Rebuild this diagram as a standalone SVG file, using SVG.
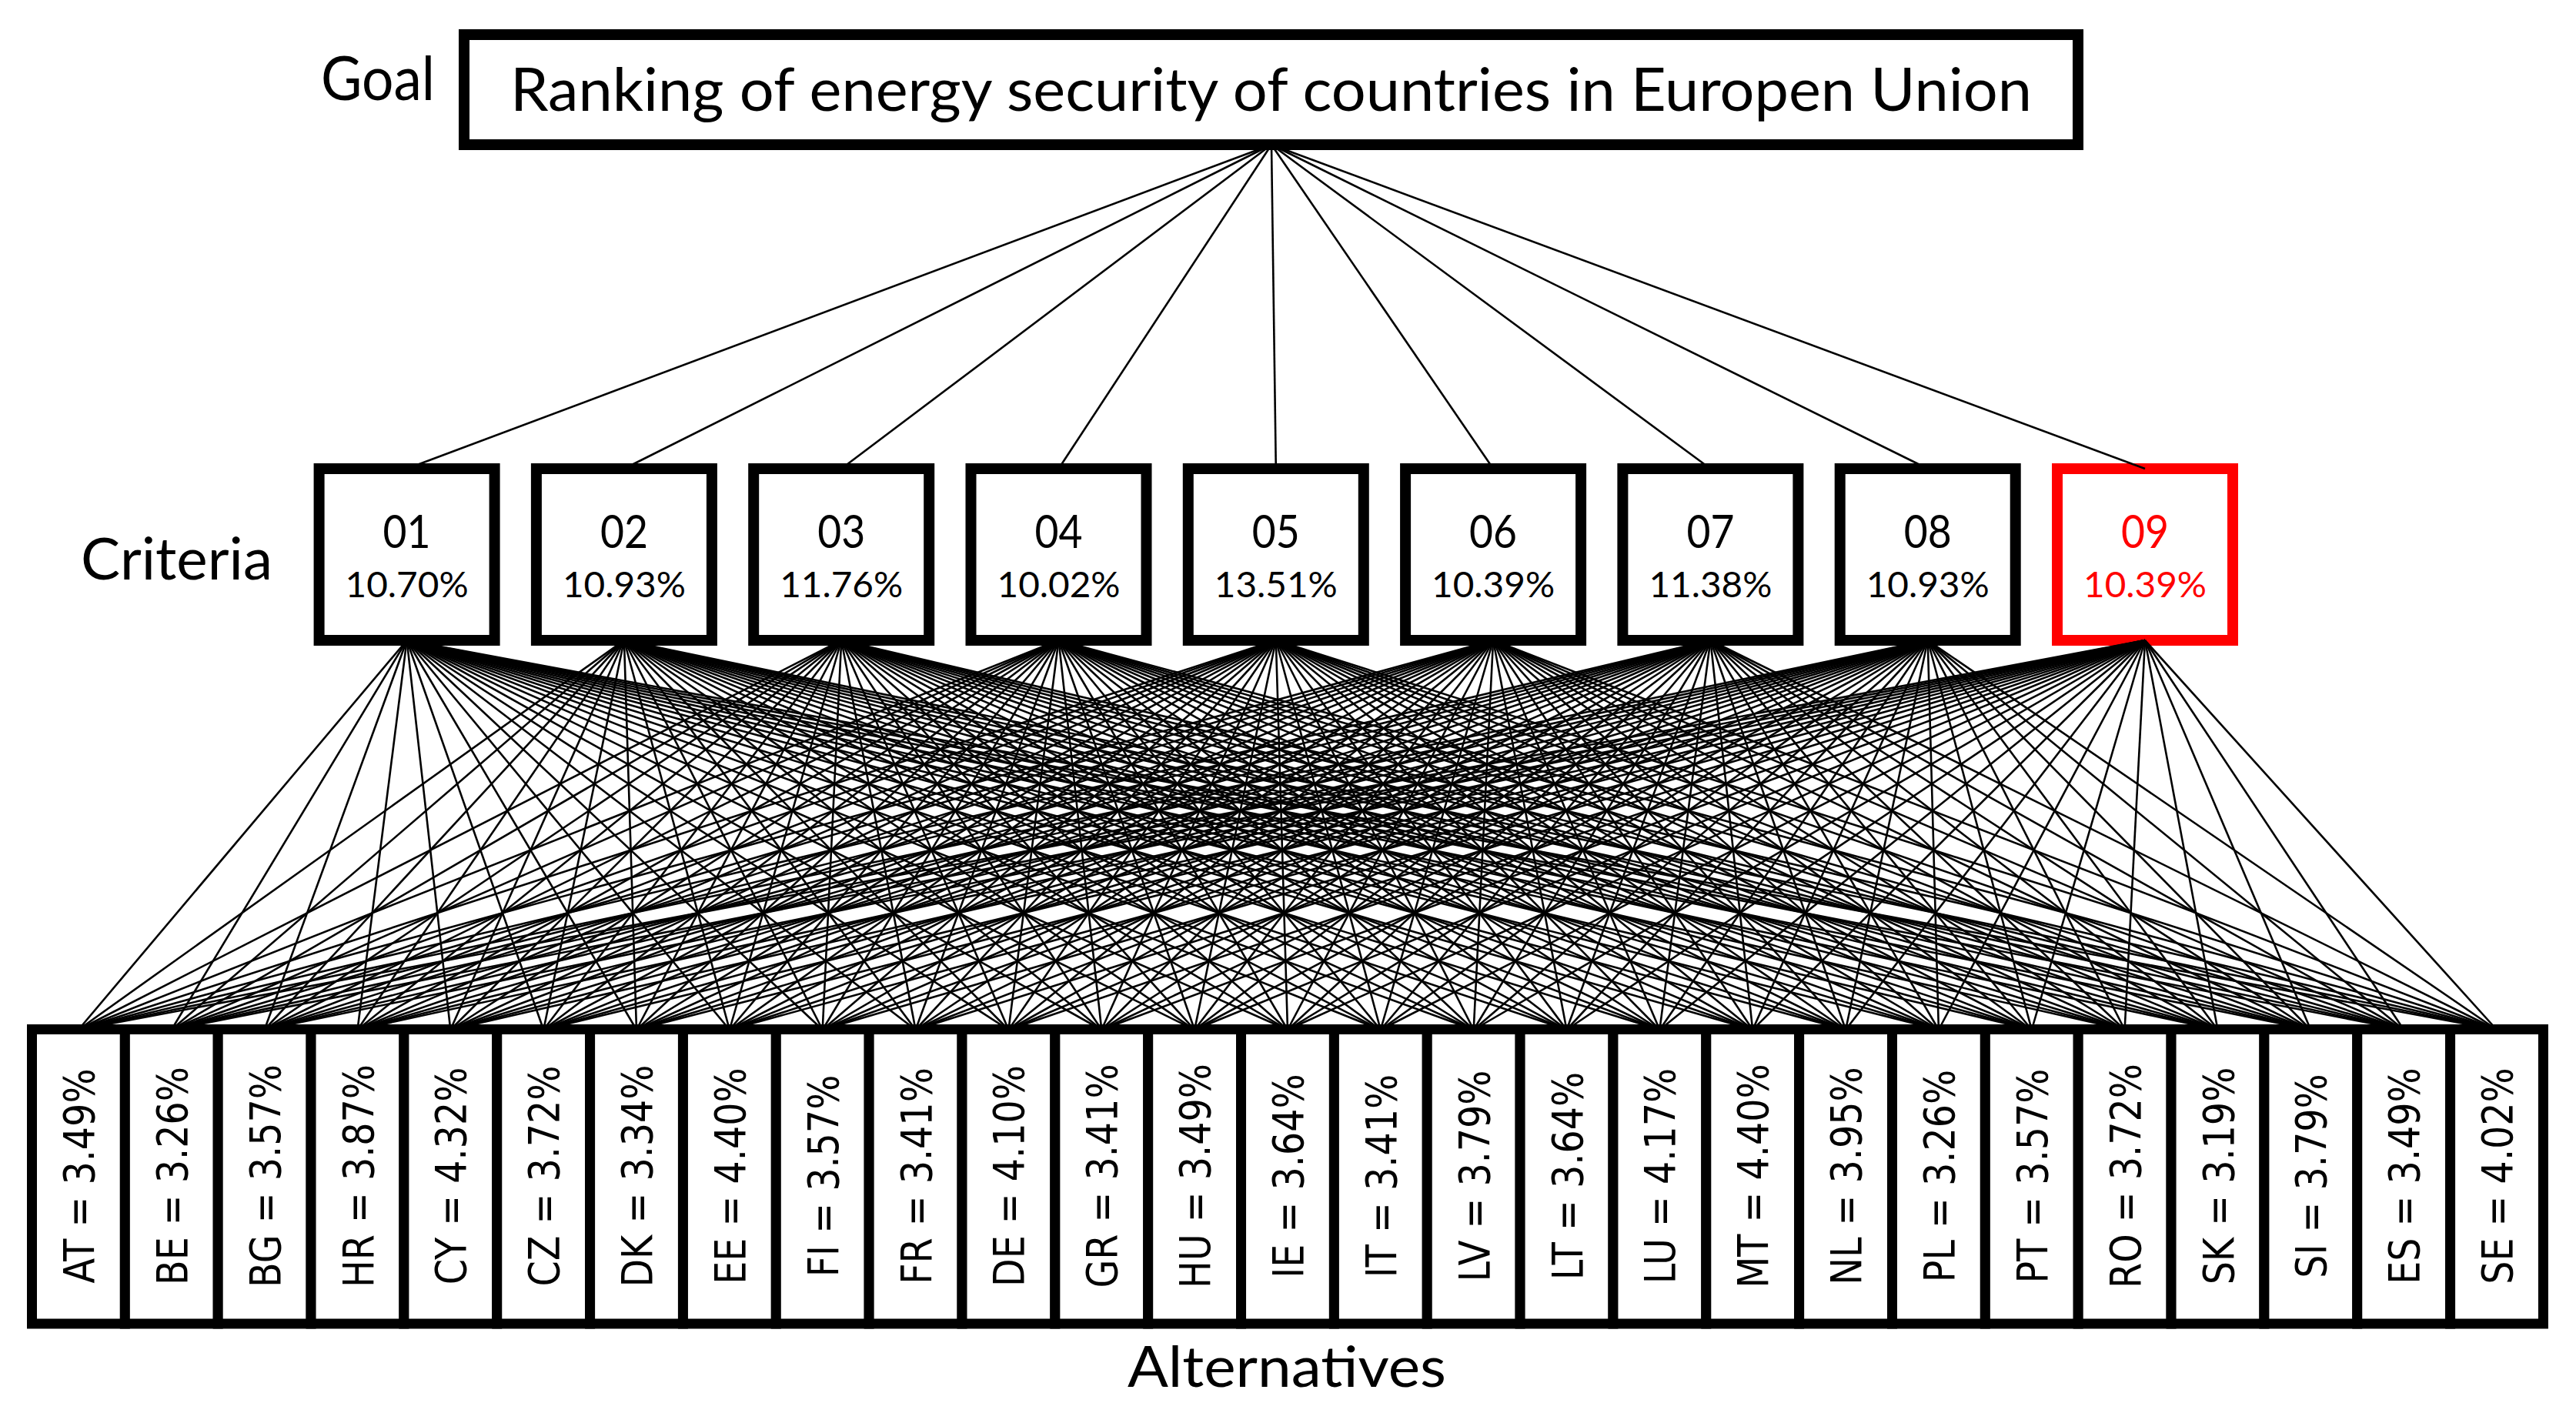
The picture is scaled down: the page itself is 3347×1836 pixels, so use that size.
<svg xmlns="http://www.w3.org/2000/svg" width="3347" height="1836" viewBox="0 0 3347 1836">
<style>
.lbl{font-family:Lato,"Open Sans","Liberation Sans",sans-serif;fill:#000}
.box rect{fill:#fff;stroke:#000;stroke-width:14}
.box text{font-family:Lato,"Open Sans","Liberation Sans",sans-serif;text-anchor:middle;fill:#000}
.box .id{font-size:60px}
.box .pc{font-size:46px}
.red rect{stroke:#ff0000}
.red text{fill:#ff0000}
.alt rect{fill:#fff;stroke:#000;stroke-width:13}
.alt text{font-family:"DejaVu Sans",Verdana,sans-serif;font-size:56px;text-anchor:middle;fill:#000}
.top line{stroke:#000;stroke-width:2.6}
.low line{stroke:#000;stroke-width:2.6}
</style>
<rect width="3347" height="1836" fill="#fff"/>
<text class="lbl" x="417" y="130" font-size="80" textLength="148" lengthAdjust="spacingAndGlyphs">Goal</text>
<text class="lbl" x="105" y="753" font-size="76" textLength="249" lengthAdjust="spacingAndGlyphs">Criteria</text>
<text class="lbl" x="1465" y="1802" font-size="74" textLength="414" lengthAdjust="spacingAndGlyphs">Alternatives</text>
<g id="goal" class="box"><rect x="603" y="45" width="2097" height="143"/><text x="1651.5" y="144" font-size="78" textLength="1977" lengthAdjust="spacingAndGlyphs">Ranking of energy security of countries in Europen Union</text></g>
<g id="criteria">
<g id="c01" class="box"><rect x="414.6" y="609" width="228" height="223"/><text class="id" x="528.6" y="712" textLength="62" lengthAdjust="spacingAndGlyphs">01</text><text class="pc" x="528.6" y="776" textLength="160" lengthAdjust="spacingAndGlyphs">10.70%</text></g>
<g id="c02" class="box"><rect x="696.9" y="609" width="228" height="223"/><text class="id" x="810.9" y="712" textLength="62" lengthAdjust="spacingAndGlyphs">02</text><text class="pc" x="810.9" y="776" textLength="160" lengthAdjust="spacingAndGlyphs">10.93%</text></g>
<g id="c03" class="box"><rect x="979.2" y="609" width="228" height="223"/><text class="id" x="1093.2" y="712" textLength="62" lengthAdjust="spacingAndGlyphs">03</text><text class="pc" x="1093.2" y="776" textLength="160" lengthAdjust="spacingAndGlyphs">11.76%</text></g>
<g id="c04" class="box"><rect x="1261.5" y="609" width="228" height="223"/><text class="id" x="1375.5" y="712" textLength="62" lengthAdjust="spacingAndGlyphs">04</text><text class="pc" x="1375.5" y="776" textLength="160" lengthAdjust="spacingAndGlyphs">10.02%</text></g>
<g id="c05" class="box"><rect x="1543.8" y="609" width="228" height="223"/><text class="id" x="1657.8" y="712" textLength="62" lengthAdjust="spacingAndGlyphs">05</text><text class="pc" x="1657.8" y="776" textLength="160" lengthAdjust="spacingAndGlyphs">13.51%</text></g>
<g id="c06" class="box"><rect x="1826.1" y="609" width="228" height="223"/><text class="id" x="1940.1" y="712" textLength="62" lengthAdjust="spacingAndGlyphs">06</text><text class="pc" x="1940.1" y="776" textLength="160" lengthAdjust="spacingAndGlyphs">10.39%</text></g>
<g id="c07" class="box"><rect x="2108.4" y="609" width="228" height="223"/><text class="id" x="2222.4" y="712" textLength="62" lengthAdjust="spacingAndGlyphs">07</text><text class="pc" x="2222.4" y="776" textLength="160" lengthAdjust="spacingAndGlyphs">11.38%</text></g>
<g id="c08" class="box"><rect x="2390.7" y="609" width="228" height="223"/><text class="id" x="2504.7" y="712" textLength="62" lengthAdjust="spacingAndGlyphs">08</text><text class="pc" x="2504.7" y="776" textLength="160" lengthAdjust="spacingAndGlyphs">10.93%</text></g>
<g id="c09" class="box red"><rect x="2673" y="609" width="228" height="223"/><text class="id" x="2787" y="712" textLength="62" lengthAdjust="spacingAndGlyphs">09</text><text class="pc" x="2787" y="776" textLength="160" lengthAdjust="spacingAndGlyphs">10.39%</text></g>
</g>
<g id="alternatives">
<g id="alt-AT" class="alt"><rect x="41.5" y="1337.5" width="120.85" height="382.5"/><text transform="translate(101.9,1528) rotate(-90) scale(0.85,1)" y="20">AT = 3.49%</text></g>
<g id="alt-BE" class="alt"><rect x="162.35" y="1337.5" width="120.85" height="382.5"/><text transform="translate(222.8,1528) rotate(-90) scale(0.85,1)" y="20">BE = 3.26%</text></g>
<g id="alt-BG" class="alt"><rect x="283.2" y="1337.5" width="120.85" height="382.5"/><text transform="translate(343.6,1528) rotate(-90) scale(0.85,1)" y="20">BG = 3.57%</text></g>
<g id="alt-HR" class="alt"><rect x="404.05" y="1337.5" width="120.85" height="382.5"/><text transform="translate(464.5,1528) rotate(-90) scale(0.85,1)" y="20">HR = 3.87%</text></g>
<g id="alt-CY" class="alt"><rect x="524.9" y="1337.5" width="120.85" height="382.5"/><text transform="translate(585.3,1528) rotate(-90) scale(0.85,1)" y="20">CY = 4.32%</text></g>
<g id="alt-CZ" class="alt"><rect x="645.75" y="1337.5" width="120.85" height="382.5"/><text transform="translate(706.2,1528) rotate(-90) scale(0.85,1)" y="20">CZ = 3.72%</text></g>
<g id="alt-DK" class="alt"><rect x="766.6" y="1337.5" width="120.85" height="382.5"/><text transform="translate(827,1528) rotate(-90) scale(0.85,1)" y="20">DK = 3.34%</text></g>
<g id="alt-EE" class="alt"><rect x="887.45" y="1337.5" width="120.85" height="382.5"/><text transform="translate(947.9,1528) rotate(-90) scale(0.85,1)" y="20">EE = 4.40%</text></g>
<g id="alt-FI" class="alt"><rect x="1008.3" y="1337.5" width="120.85" height="382.5"/><text transform="translate(1068.7,1528) rotate(-90) scale(0.85,1)" y="20">FI = 3.57%</text></g>
<g id="alt-FR" class="alt"><rect x="1129.15" y="1337.5" width="120.85" height="382.5"/><text transform="translate(1189.6,1528) rotate(-90) scale(0.85,1)" y="20">FR = 3.41%</text></g>
<g id="alt-DE" class="alt"><rect x="1250" y="1337.5" width="120.85" height="382.5"/><text transform="translate(1310.4,1528) rotate(-90) scale(0.85,1)" y="20">DE = 4.10%</text></g>
<g id="alt-GR" class="alt"><rect x="1370.85" y="1337.5" width="120.85" height="382.5"/><text transform="translate(1431.3,1528) rotate(-90) scale(0.85,1)" y="20">GR = 3.41%</text></g>
<g id="alt-HU" class="alt"><rect x="1491.7" y="1337.5" width="120.85" height="382.5"/><text transform="translate(1552.1,1528) rotate(-90) scale(0.85,1)" y="20">HU = 3.49%</text></g>
<g id="alt-IE" class="alt"><rect x="1612.55" y="1337.5" width="120.85" height="382.5"/><text transform="translate(1673,1528) rotate(-90) scale(0.85,1)" y="20">IE = 3.64%</text></g>
<g id="alt-IT" class="alt"><rect x="1733.4" y="1337.5" width="120.85" height="382.5"/><text transform="translate(1793.8,1528) rotate(-90) scale(0.85,1)" y="20">IT = 3.41%</text></g>
<g id="alt-LV" class="alt"><rect x="1854.25" y="1337.5" width="120.85" height="382.5"/><text transform="translate(1914.7,1528) rotate(-90) scale(0.85,1)" y="20">LV = 3.79%</text></g>
<g id="alt-LT" class="alt"><rect x="1975.1" y="1337.5" width="120.85" height="382.5"/><text transform="translate(2035.5,1528) rotate(-90) scale(0.85,1)" y="20">LT = 3.64%</text></g>
<g id="alt-LU" class="alt"><rect x="2095.95" y="1337.5" width="120.85" height="382.5"/><text transform="translate(2156.4,1528) rotate(-90) scale(0.85,1)" y="20">LU = 4.17%</text></g>
<g id="alt-MT" class="alt"><rect x="2216.8" y="1337.5" width="120.85" height="382.5"/><text transform="translate(2277.2,1528) rotate(-90) scale(0.85,1)" y="20">MT = 4.40%</text></g>
<g id="alt-NL" class="alt"><rect x="2337.65" y="1337.5" width="120.85" height="382.5"/><text transform="translate(2398.1,1528) rotate(-90) scale(0.85,1)" y="20">NL = 3.95%</text></g>
<g id="alt-PL" class="alt"><rect x="2458.5" y="1337.5" width="120.85" height="382.5"/><text transform="translate(2518.9,1528) rotate(-90) scale(0.85,1)" y="20">PL = 3.26%</text></g>
<g id="alt-PT" class="alt"><rect x="2579.35" y="1337.5" width="120.85" height="382.5"/><text transform="translate(2639.8,1528) rotate(-90) scale(0.85,1)" y="20">PT = 3.57%</text></g>
<g id="alt-RO" class="alt"><rect x="2700.2" y="1337.5" width="120.85" height="382.5"/><text transform="translate(2760.6,1528) rotate(-90) scale(0.85,1)" y="20">RO = 3.72%</text></g>
<g id="alt-SK" class="alt"><rect x="2821.05" y="1337.5" width="120.85" height="382.5"/><text transform="translate(2881.5,1528) rotate(-90) scale(0.85,1)" y="20">SK = 3.19%</text></g>
<g id="alt-SI" class="alt"><rect x="2941.9" y="1337.5" width="120.85" height="382.5"/><text transform="translate(3002.3,1528) rotate(-90) scale(0.85,1)" y="20">SI = 3.79%</text></g>
<g id="alt-ES" class="alt"><rect x="3062.75" y="1337.5" width="120.85" height="382.5"/><text transform="translate(3123.2,1528) rotate(-90) scale(0.85,1)" y="20">ES = 3.49%</text></g>
<g id="alt-SE" class="alt"><rect x="3183.6" y="1337.5" width="120.85" height="382.5"/><text transform="translate(3244,1528) rotate(-90) scale(0.85,1)" y="20">SE = 4.02%</text></g>
</g>
<g id="connectors">
<g class="top">
<line x1="1652" y1="188" x2="528.6" y2="609"/>
<line x1="1652" y1="188" x2="810.9" y2="609"/>
<line x1="1652" y1="188" x2="1093.2" y2="609"/>
<line x1="1652" y1="188" x2="1375.5" y2="609"/>
<line x1="1652" y1="188" x2="1657.8" y2="609"/>
<line x1="1652" y1="188" x2="1940.1" y2="609"/>
<line x1="1652" y1="188" x2="2222.4" y2="609"/>
<line x1="1652" y1="188" x2="2504.7" y2="609"/>
<line x1="1652" y1="188" x2="2787" y2="609"/>
</g>
<g class="low">
<line x1="528.6" y1="832" x2="101.9" y2="1338"/><line x1="528.6" y1="832" x2="222.8" y2="1338"/><line x1="528.6" y1="832" x2="343.6" y2="1338"/><line x1="528.6" y1="832" x2="464.5" y2="1338"/><line x1="528.6" y1="832" x2="585.3" y2="1338"/><line x1="528.6" y1="832" x2="706.2" y2="1338"/><line x1="528.6" y1="832" x2="827" y2="1338"/><line x1="528.6" y1="832" x2="947.9" y2="1338"/><line x1="528.6" y1="832" x2="1068.7" y2="1338"/><line x1="528.6" y1="832" x2="1189.6" y2="1338"/><line x1="528.6" y1="832" x2="1310.4" y2="1338"/><line x1="528.6" y1="832" x2="1431.3" y2="1338"/><line x1="528.6" y1="832" x2="1552.1" y2="1338"/><line x1="528.6" y1="832" x2="1673" y2="1338"/><line x1="528.6" y1="832" x2="1793.8" y2="1338"/><line x1="528.6" y1="832" x2="1914.7" y2="1338"/><line x1="528.6" y1="832" x2="2035.5" y2="1338"/><line x1="528.6" y1="832" x2="2156.4" y2="1338"/><line x1="528.6" y1="832" x2="2277.2" y2="1338"/><line x1="528.6" y1="832" x2="2398.1" y2="1338"/><line x1="528.6" y1="832" x2="2518.9" y2="1338"/><line x1="528.6" y1="832" x2="2639.8" y2="1338"/><line x1="528.6" y1="832" x2="2760.6" y2="1338"/><line x1="528.6" y1="832" x2="2881.5" y2="1338"/><line x1="528.6" y1="832" x2="3002.3" y2="1338"/><line x1="528.6" y1="832" x2="3123.2" y2="1338"/><line x1="528.6" y1="832" x2="3244" y2="1338"/>
<line x1="810.9" y1="832" x2="101.9" y2="1338"/><line x1="810.9" y1="832" x2="222.8" y2="1338"/><line x1="810.9" y1="832" x2="343.6" y2="1338"/><line x1="810.9" y1="832" x2="464.5" y2="1338"/><line x1="810.9" y1="832" x2="585.3" y2="1338"/><line x1="810.9" y1="832" x2="706.2" y2="1338"/><line x1="810.9" y1="832" x2="827" y2="1338"/><line x1="810.9" y1="832" x2="947.9" y2="1338"/><line x1="810.9" y1="832" x2="1068.7" y2="1338"/><line x1="810.9" y1="832" x2="1189.6" y2="1338"/><line x1="810.9" y1="832" x2="1310.4" y2="1338"/><line x1="810.9" y1="832" x2="1431.3" y2="1338"/><line x1="810.9" y1="832" x2="1552.1" y2="1338"/><line x1="810.9" y1="832" x2="1673" y2="1338"/><line x1="810.9" y1="832" x2="1793.8" y2="1338"/><line x1="810.9" y1="832" x2="1914.7" y2="1338"/><line x1="810.9" y1="832" x2="2035.5" y2="1338"/><line x1="810.9" y1="832" x2="2156.4" y2="1338"/><line x1="810.9" y1="832" x2="2277.2" y2="1338"/><line x1="810.9" y1="832" x2="2398.1" y2="1338"/><line x1="810.9" y1="832" x2="2518.9" y2="1338"/><line x1="810.9" y1="832" x2="2639.8" y2="1338"/><line x1="810.9" y1="832" x2="2760.6" y2="1338"/><line x1="810.9" y1="832" x2="2881.5" y2="1338"/><line x1="810.9" y1="832" x2="3002.3" y2="1338"/><line x1="810.9" y1="832" x2="3123.2" y2="1338"/><line x1="810.9" y1="832" x2="3244" y2="1338"/>
<line x1="1093.2" y1="832" x2="101.9" y2="1338"/><line x1="1093.2" y1="832" x2="222.8" y2="1338"/><line x1="1093.2" y1="832" x2="343.6" y2="1338"/><line x1="1093.2" y1="832" x2="464.5" y2="1338"/><line x1="1093.2" y1="832" x2="585.3" y2="1338"/><line x1="1093.2" y1="832" x2="706.2" y2="1338"/><line x1="1093.2" y1="832" x2="827" y2="1338"/><line x1="1093.2" y1="832" x2="947.9" y2="1338"/><line x1="1093.2" y1="832" x2="1068.7" y2="1338"/><line x1="1093.2" y1="832" x2="1189.6" y2="1338"/><line x1="1093.2" y1="832" x2="1310.4" y2="1338"/><line x1="1093.2" y1="832" x2="1431.3" y2="1338"/><line x1="1093.2" y1="832" x2="1552.1" y2="1338"/><line x1="1093.2" y1="832" x2="1673" y2="1338"/><line x1="1093.2" y1="832" x2="1793.8" y2="1338"/><line x1="1093.2" y1="832" x2="1914.7" y2="1338"/><line x1="1093.2" y1="832" x2="2035.5" y2="1338"/><line x1="1093.2" y1="832" x2="2156.4" y2="1338"/><line x1="1093.2" y1="832" x2="2277.2" y2="1338"/><line x1="1093.2" y1="832" x2="2398.1" y2="1338"/><line x1="1093.2" y1="832" x2="2518.9" y2="1338"/><line x1="1093.2" y1="832" x2="2639.8" y2="1338"/><line x1="1093.2" y1="832" x2="2760.6" y2="1338"/><line x1="1093.2" y1="832" x2="2881.5" y2="1338"/><line x1="1093.2" y1="832" x2="3002.3" y2="1338"/><line x1="1093.2" y1="832" x2="3123.2" y2="1338"/><line x1="1093.2" y1="832" x2="3244" y2="1338"/>
<line x1="1375.5" y1="832" x2="101.9" y2="1338"/><line x1="1375.5" y1="832" x2="222.8" y2="1338"/><line x1="1375.5" y1="832" x2="343.6" y2="1338"/><line x1="1375.5" y1="832" x2="464.5" y2="1338"/><line x1="1375.5" y1="832" x2="585.3" y2="1338"/><line x1="1375.5" y1="832" x2="706.2" y2="1338"/><line x1="1375.5" y1="832" x2="827" y2="1338"/><line x1="1375.5" y1="832" x2="947.9" y2="1338"/><line x1="1375.5" y1="832" x2="1068.7" y2="1338"/><line x1="1375.5" y1="832" x2="1189.6" y2="1338"/><line x1="1375.5" y1="832" x2="1310.4" y2="1338"/><line x1="1375.5" y1="832" x2="1431.3" y2="1338"/><line x1="1375.5" y1="832" x2="1552.1" y2="1338"/><line x1="1375.5" y1="832" x2="1673" y2="1338"/><line x1="1375.5" y1="832" x2="1793.8" y2="1338"/><line x1="1375.5" y1="832" x2="1914.7" y2="1338"/><line x1="1375.5" y1="832" x2="2035.5" y2="1338"/><line x1="1375.5" y1="832" x2="2156.4" y2="1338"/><line x1="1375.5" y1="832" x2="2277.2" y2="1338"/><line x1="1375.5" y1="832" x2="2398.1" y2="1338"/><line x1="1375.5" y1="832" x2="2518.9" y2="1338"/><line x1="1375.5" y1="832" x2="2639.8" y2="1338"/><line x1="1375.5" y1="832" x2="2760.6" y2="1338"/><line x1="1375.5" y1="832" x2="2881.5" y2="1338"/><line x1="1375.5" y1="832" x2="3002.3" y2="1338"/><line x1="1375.5" y1="832" x2="3123.2" y2="1338"/><line x1="1375.5" y1="832" x2="3244" y2="1338"/>
<line x1="1657.8" y1="832" x2="101.9" y2="1338"/><line x1="1657.8" y1="832" x2="222.8" y2="1338"/><line x1="1657.8" y1="832" x2="343.6" y2="1338"/><line x1="1657.8" y1="832" x2="464.5" y2="1338"/><line x1="1657.8" y1="832" x2="585.3" y2="1338"/><line x1="1657.8" y1="832" x2="706.2" y2="1338"/><line x1="1657.8" y1="832" x2="827" y2="1338"/><line x1="1657.8" y1="832" x2="947.9" y2="1338"/><line x1="1657.8" y1="832" x2="1068.7" y2="1338"/><line x1="1657.8" y1="832" x2="1189.6" y2="1338"/><line x1="1657.8" y1="832" x2="1310.4" y2="1338"/><line x1="1657.8" y1="832" x2="1431.3" y2="1338"/><line x1="1657.8" y1="832" x2="1552.1" y2="1338"/><line x1="1657.8" y1="832" x2="1673" y2="1338"/><line x1="1657.8" y1="832" x2="1793.8" y2="1338"/><line x1="1657.8" y1="832" x2="1914.7" y2="1338"/><line x1="1657.8" y1="832" x2="2035.5" y2="1338"/><line x1="1657.8" y1="832" x2="2156.4" y2="1338"/><line x1="1657.8" y1="832" x2="2277.2" y2="1338"/><line x1="1657.8" y1="832" x2="2398.1" y2="1338"/><line x1="1657.8" y1="832" x2="2518.9" y2="1338"/><line x1="1657.8" y1="832" x2="2639.8" y2="1338"/><line x1="1657.8" y1="832" x2="2760.6" y2="1338"/><line x1="1657.8" y1="832" x2="2881.5" y2="1338"/><line x1="1657.8" y1="832" x2="3002.3" y2="1338"/><line x1="1657.8" y1="832" x2="3123.2" y2="1338"/><line x1="1657.8" y1="832" x2="3244" y2="1338"/>
<line x1="1940.1" y1="832" x2="101.9" y2="1338"/><line x1="1940.1" y1="832" x2="222.8" y2="1338"/><line x1="1940.1" y1="832" x2="343.6" y2="1338"/><line x1="1940.1" y1="832" x2="464.5" y2="1338"/><line x1="1940.1" y1="832" x2="585.3" y2="1338"/><line x1="1940.1" y1="832" x2="706.2" y2="1338"/><line x1="1940.1" y1="832" x2="827" y2="1338"/><line x1="1940.1" y1="832" x2="947.9" y2="1338"/><line x1="1940.1" y1="832" x2="1068.7" y2="1338"/><line x1="1940.1" y1="832" x2="1189.6" y2="1338"/><line x1="1940.1" y1="832" x2="1310.4" y2="1338"/><line x1="1940.1" y1="832" x2="1431.3" y2="1338"/><line x1="1940.1" y1="832" x2="1552.1" y2="1338"/><line x1="1940.1" y1="832" x2="1673" y2="1338"/><line x1="1940.1" y1="832" x2="1793.8" y2="1338"/><line x1="1940.1" y1="832" x2="1914.7" y2="1338"/><line x1="1940.1" y1="832" x2="2035.5" y2="1338"/><line x1="1940.1" y1="832" x2="2156.4" y2="1338"/><line x1="1940.1" y1="832" x2="2277.2" y2="1338"/><line x1="1940.1" y1="832" x2="2398.1" y2="1338"/><line x1="1940.1" y1="832" x2="2518.9" y2="1338"/><line x1="1940.1" y1="832" x2="2639.8" y2="1338"/><line x1="1940.1" y1="832" x2="2760.6" y2="1338"/><line x1="1940.1" y1="832" x2="2881.5" y2="1338"/><line x1="1940.1" y1="832" x2="3002.3" y2="1338"/><line x1="1940.1" y1="832" x2="3123.2" y2="1338"/><line x1="1940.1" y1="832" x2="3244" y2="1338"/>
<line x1="2222.4" y1="832" x2="101.9" y2="1338"/><line x1="2222.4" y1="832" x2="222.8" y2="1338"/><line x1="2222.4" y1="832" x2="343.6" y2="1338"/><line x1="2222.4" y1="832" x2="464.5" y2="1338"/><line x1="2222.4" y1="832" x2="585.3" y2="1338"/><line x1="2222.4" y1="832" x2="706.2" y2="1338"/><line x1="2222.4" y1="832" x2="827" y2="1338"/><line x1="2222.4" y1="832" x2="947.9" y2="1338"/><line x1="2222.4" y1="832" x2="1068.7" y2="1338"/><line x1="2222.4" y1="832" x2="1189.6" y2="1338"/><line x1="2222.4" y1="832" x2="1310.4" y2="1338"/><line x1="2222.4" y1="832" x2="1431.3" y2="1338"/><line x1="2222.4" y1="832" x2="1552.1" y2="1338"/><line x1="2222.4" y1="832" x2="1673" y2="1338"/><line x1="2222.4" y1="832" x2="1793.8" y2="1338"/><line x1="2222.4" y1="832" x2="1914.7" y2="1338"/><line x1="2222.4" y1="832" x2="2035.5" y2="1338"/><line x1="2222.4" y1="832" x2="2156.4" y2="1338"/><line x1="2222.4" y1="832" x2="2277.2" y2="1338"/><line x1="2222.4" y1="832" x2="2398.1" y2="1338"/><line x1="2222.4" y1="832" x2="2518.9" y2="1338"/><line x1="2222.4" y1="832" x2="2639.8" y2="1338"/><line x1="2222.4" y1="832" x2="2760.6" y2="1338"/><line x1="2222.4" y1="832" x2="2881.5" y2="1338"/><line x1="2222.4" y1="832" x2="3002.3" y2="1338"/><line x1="2222.4" y1="832" x2="3123.2" y2="1338"/><line x1="2222.4" y1="832" x2="3244" y2="1338"/>
<line x1="2504.7" y1="832" x2="101.9" y2="1338"/><line x1="2504.7" y1="832" x2="222.8" y2="1338"/><line x1="2504.7" y1="832" x2="343.6" y2="1338"/><line x1="2504.7" y1="832" x2="464.5" y2="1338"/><line x1="2504.7" y1="832" x2="585.3" y2="1338"/><line x1="2504.7" y1="832" x2="706.2" y2="1338"/><line x1="2504.7" y1="832" x2="827" y2="1338"/><line x1="2504.7" y1="832" x2="947.9" y2="1338"/><line x1="2504.7" y1="832" x2="1068.7" y2="1338"/><line x1="2504.7" y1="832" x2="1189.6" y2="1338"/><line x1="2504.7" y1="832" x2="1310.4" y2="1338"/><line x1="2504.7" y1="832" x2="1431.3" y2="1338"/><line x1="2504.7" y1="832" x2="1552.1" y2="1338"/><line x1="2504.7" y1="832" x2="1673" y2="1338"/><line x1="2504.7" y1="832" x2="1793.8" y2="1338"/><line x1="2504.7" y1="832" x2="1914.7" y2="1338"/><line x1="2504.7" y1="832" x2="2035.5" y2="1338"/><line x1="2504.7" y1="832" x2="2156.4" y2="1338"/><line x1="2504.7" y1="832" x2="2277.2" y2="1338"/><line x1="2504.7" y1="832" x2="2398.1" y2="1338"/><line x1="2504.7" y1="832" x2="2518.9" y2="1338"/><line x1="2504.7" y1="832" x2="2639.8" y2="1338"/><line x1="2504.7" y1="832" x2="2760.6" y2="1338"/><line x1="2504.7" y1="832" x2="2881.5" y2="1338"/><line x1="2504.7" y1="832" x2="3002.3" y2="1338"/><line x1="2504.7" y1="832" x2="3123.2" y2="1338"/><line x1="2504.7" y1="832" x2="3244" y2="1338"/>
<line x1="2787" y1="832" x2="101.9" y2="1338"/><line x1="2787" y1="832" x2="222.8" y2="1338"/><line x1="2787" y1="832" x2="343.6" y2="1338"/><line x1="2787" y1="832" x2="464.5" y2="1338"/><line x1="2787" y1="832" x2="585.3" y2="1338"/><line x1="2787" y1="832" x2="706.2" y2="1338"/><line x1="2787" y1="832" x2="827" y2="1338"/><line x1="2787" y1="832" x2="947.9" y2="1338"/><line x1="2787" y1="832" x2="1068.7" y2="1338"/><line x1="2787" y1="832" x2="1189.6" y2="1338"/><line x1="2787" y1="832" x2="1310.4" y2="1338"/><line x1="2787" y1="832" x2="1431.3" y2="1338"/><line x1="2787" y1="832" x2="1552.1" y2="1338"/><line x1="2787" y1="832" x2="1673" y2="1338"/><line x1="2787" y1="832" x2="1793.8" y2="1338"/><line x1="2787" y1="832" x2="1914.7" y2="1338"/><line x1="2787" y1="832" x2="2035.5" y2="1338"/><line x1="2787" y1="832" x2="2156.4" y2="1338"/><line x1="2787" y1="832" x2="2277.2" y2="1338"/><line x1="2787" y1="832" x2="2398.1" y2="1338"/><line x1="2787" y1="832" x2="2518.9" y2="1338"/><line x1="2787" y1="832" x2="2639.8" y2="1338"/><line x1="2787" y1="832" x2="2760.6" y2="1338"/><line x1="2787" y1="832" x2="2881.5" y2="1338"/><line x1="2787" y1="832" x2="3002.3" y2="1338"/><line x1="2787" y1="832" x2="3123.2" y2="1338"/><line x1="2787" y1="832" x2="3244" y2="1338"/>
</g>
</g>
</svg>
